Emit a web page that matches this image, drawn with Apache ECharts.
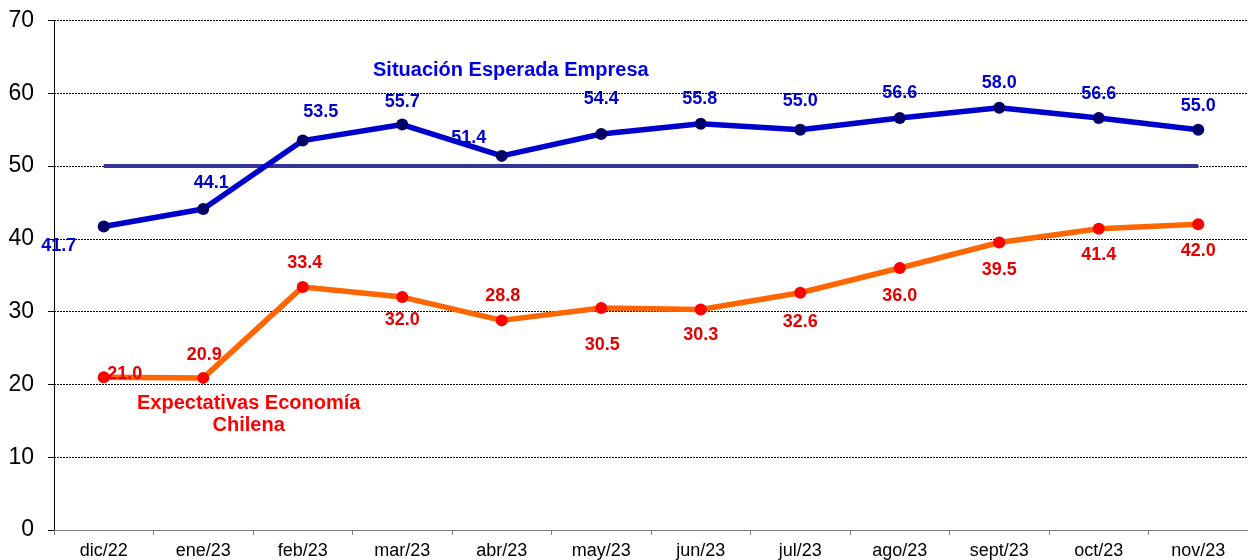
<!DOCTYPE html>
<html><head><meta charset="utf-8">
<script src="https://cdn.jsdelivr.net/npm/echarts@6/dist/echarts.min.js"></script>
<style>html,body{margin:0;padding:0;background:#fff}#c{width:1248px;height:560px}</style>
</head><body><div id="c"></div>
<script>
const categories = ['dic/22','ene/23','feb/23','mar/23','abr/23','may/23','jun/23','jul/23','ago/23','sept/23','oct/23','nov/23'];
const empresa = [41.7,44.1,53.5,55.7,51.4,54.4,55.8,55.0,56.6,58.0,56.6,55.0];
const economia = [21.0,20.9,33.4,32.0,28.8,30.5,30.3,32.6,36.0,39.5,41.4,42.0];
const neutral = [50,50,50,50,50,50,50,50,50,50,50,50];
const yTicks = [0,10,20,30,40,50,60,70];

// label offsets (layout only)
const empOff = [[-45,20],[8,-26],[18,-29],[0,-23],[-33,-18],[0,-35],[-1,-25],[0,-29],[0,-25],[0,-25],[0,-24],[0,-24]];
const ecoOff = [[21,-3],[1,-23],[2,-24],[0,23],[1,-24],[1,37],[0,26],[0,29],[0,28],[0,28],[0,26],[0,27]];

const chart = echarts.init(document.getElementById('c'));
const lblFont = {fontFamily:'Liberation Sans, Arial, sans-serif', fontWeight:'bold', fontSize:18};
chart.setOption({
  animation:false,
  grid:{left:54, top:20.5, width:1196.5, height:510.5, containLabel:false},
  xAxis:{type:'category', data:categories, boundaryGap:true,
    axisLine:{lineStyle:{color:'#808080', width:1}},
    axisTick:{show:true, length:5, lineStyle:{color:'#808080'}},
    axisLabel:{color:'#000', fontSize:18, fontFamily:'Liberation Sans, Arial, sans-serif', margin:12},
    splitLine:{show:false}},
  yAxis:{type:'value', min:yTicks[0], max:yTicks[yTicks.length-1], interval:10,
    axisLine:{show:true, lineStyle:{color:'#000', width:1}},
    axisTick:{show:true, length:6, lineStyle:{color:'#000'}},
    axisLabel:{color:'#000', fontSize:23, fontFamily:'Liberation Sans, Arial, sans-serif', margin:20},
    splitLine:{show:true, lineStyle:{color:'#000', width:1, type:[2,1]}}},
  series:[
    {type:'line', data:neutral, symbol:'none', silent:true,
     lineStyle:{color:'#333399', width:4}, z:1},
    {type:'line', data:empresa.map((v,i)=>({value:v, label:{offset:empOff[i]}})),
     symbol:'circle', symbolSize:12,
     itemStyle:{color:'#000066'},
     lineStyle:{color:'#0000CC', width:5.5},
     label:{show:true, position:'inside', color:'#0000CC', formatter:p=>p.value.toFixed(1), ...lblFont},
     z:3},
    {type:'line', data:economia.map((v,i)=>({value:v, label:{offset:ecoOff[i]}})),
     symbol:'circle', symbolSize:12,
     itemStyle:{color:'#FF0000'},
     lineStyle:{color:'#FF6600', width:5.5},
     label:{show:true, position:'inside', color:'#E60000', formatter:p=>p.value.toFixed(1), ...lblFont},
     z:2}
  ],
  graphic:[
    {type:'text', left:373, top:60, style:{text:'Situación Esperada Empresa', fill:'#0000E6', font:'bold 20px "Liberation Sans", Arial, sans-serif'}},
    {type:'text', left:137, top:392, style:{text:'Expectativas Economía\nChilena', fill:'#FF0000', textAlign:'center', lineHeight:22, font:'bold 20px "Liberation Sans", Arial, sans-serif'}}
  ]
});
</script></body></html>
